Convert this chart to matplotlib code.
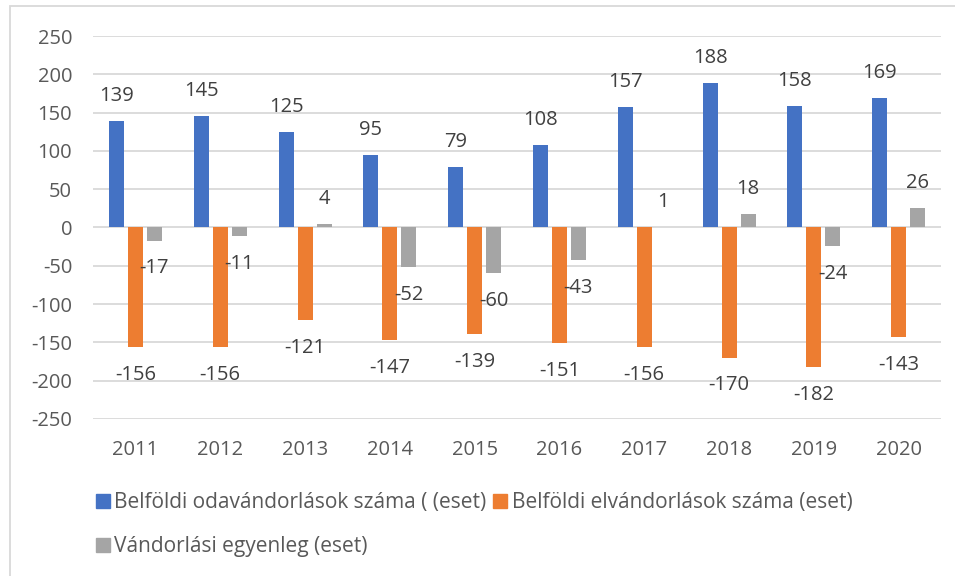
import matplotlib
matplotlib.use("Agg")
import matplotlib.pyplot as plt
from matplotlib.patches import Patch, Rectangle
import numpy as np

# ── Data ──────────────────────────────────────────────────────
years    = ["2011", "2012", "2013", "2014", "2015", "2016", "2017", "2018", "2019", "2020"]
inflow   = [139, 145, 125, 95, 79, 108, 157, 188, 158, 169]
outflow  = [-156, -156, -121, -147, -139, -151, -156, -170, -182, -143]
balance  = [-17, -11, 4, -52, -60, -43, 1, 18, -24, 26]

labels = ["Belföldi odavándorlások száma ( (eset)",
          "Belföldi elvándorlások száma (eset)",
          "Vándorlási egyenleg (eset)"]
colors = ["#4472C4", "#ED7D31", "#A5A5A5"]

# ── Style ─────────────────────────────────────────────────────
TEXT  = "#595959"
GRID  = "#D9D9D9"
FS    = 14.5
FS_LEG = 15
plt.rcParams["font.family"] = ["Open Sans", "DejaVu Sans"]
plt.rcParams["axes.unicode_minus"] = False

fig = plt.figure(figsize=(9.55, 5.76), dpi=100)
ax = fig.add_axes([0.0974, 0.2726, 0.8880, 0.6649])

x = np.arange(len(years))
width = 0.177
step = 0.224

for i, (vals, col) in enumerate(zip([inflow, outflow, balance], colors)):
    pos = x + (i - 1) * step
    ax.bar(pos, vals, width=width, color=col, zorder=2)
    for px, v in zip(pos, vals):
        off = 18 if v >= 0 else -20
        ax.annotate(str(v), (px, v), xytext=(0, off), textcoords="offset points",
                    ha="center", va="center", fontsize=FS, color="#404040")

ax.set_xlim(-0.5, len(years) - 0.5)
ax.set_ylim(-250, 250)
ax.set_yticks(np.arange(-250, 251, 50))
ax.set_xticks(x)
ax.set_xticklabels(years)
ax.yaxis.grid(True, color=GRID, linewidth=1.3, zorder=0)
ax.set_axisbelow(True)
for s in ax.spines.values():
    s.set_visible(False)
ax.tick_params(axis="both", length=0, labelsize=FS, labelcolor=TEXT)
ax.tick_params(axis="y", pad=15)
ax.tick_params(axis="x", pad=15)

# legend: row 1 -> blue, orange ; row 2 -> gray
handles = [Patch(color=c) for c in colors]
order = [0, 2, 1]
fig.legend([handles[k] for k in order], [labels[k] for k in order],
           ncol=2, loc="upper left", bbox_to_anchor=(0.1, 0.145),
           frameon=False, fontsize=FS_LEG, labelcolor=TEXT,
           handlelength=0.7, handleheight=0.7, handletextpad=0.2,
           columnspacing=0.3, labelspacing=1.1, borderaxespad=0, borderpad=0)

# chart border (left + top visible)
fig.add_artist(Rectangle((10 / 955, -0.1), 1.2, 1.1 - 6 / 576,
                         transform=fig.transFigure, fill=False,
                         edgecolor=GRID, linewidth=1.3))

fig.savefig("out.png", dpi=100, facecolor="white")
